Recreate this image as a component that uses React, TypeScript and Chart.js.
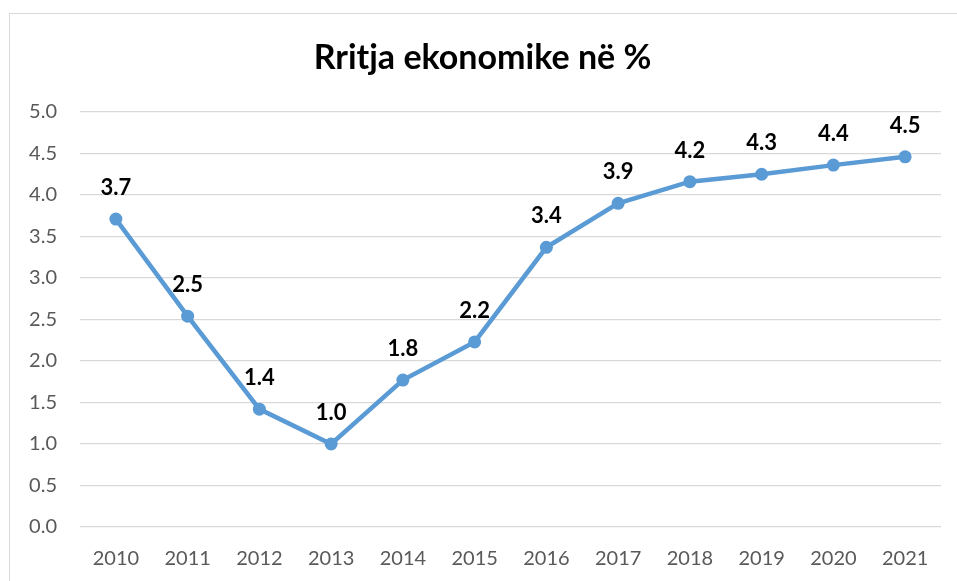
import React, { useEffect, useRef } from "react";
import { Chart, registerables } from "chart.js";

Chart.register(...registerables);

const titleText = "Rritja ekonomike në %";
const years = ["2010", "2011", "2012", "2013", "2014", "2015", "2016", "2017", "2018", "2019", "2020", "2021"];
const growth = [3.71, 2.54, 1.42, 1.0, 1.77, 2.23, 3.37, 3.9, 4.16, 4.25, 4.36, 4.46];
const yMin = 0;
const yMax = 5;
const yStep = 0.5;

const FONT = "Lato, 'Open Sans', sans-serif";

const pointLabelPlugin = {
  id: "pointLabels",
  afterDatasetsDraw(chart: any) {
    const ctx = chart.ctx;
    const meta = chart.getDatasetMeta(0);
    ctx.save();
    ctx.font = `bold 22px ${FONT}`;
    ctx.fillStyle = "#000000";
    ctx.textAlign = "center";
    ctx.textBaseline = "middle";
    meta.data.forEach((pt: any, i: number) => {
      ctx.fillText(growth[i].toFixed(1), pt.x, pt.y - 31);
    });
    ctx.restore();
  },
};

export default function App() {
  const canvasRef = useRef<HTMLCanvasElement | null>(null);

  useEffect(() => {
    if (!canvasRef.current) return;
    const chart = new Chart(canvasRef.current, {
      type: "line",
      data: {
        labels: years,
        datasets: [
          {
            data: growth,
            borderColor: "#5B9BD5",
            backgroundColor: "#5B9BD5",
            borderWidth: 4.5,
            pointRadius: 6.5,
            pointBorderWidth: 0,
            pointBackgroundColor: "#5B9BD5",
            tension: 0,
            fill: false,
          },
        ],
      },
      options: {
        animation: false,
        responsive: false,
        maintainAspectRatio: false,
        layout: { padding: { left: 24, right: 16, top: 20, bottom: 0 } },
        plugins: {
          legend: { display: false },
          tooltip: { enabled: false },
          title: {
            display: true,
            text: titleText,
            color: "#000000",
            font: { family: FONT, size: 34, weight: "bold" },
            padding: { top: 17.6, bottom: 33.6 },
          },
        },
        scales: {
          x: {
            offset: true,
            grid: { display: false, drawTicks: false },
            border: { display: false },
            ticks: {
              color: "#595959",
              font: { family: FONT, size: 20 },
              padding: 20,
              maxRotation: 0,
            },
            afterFit(scale: any) {
              scale.height = 54;
            },
          },
          y: {
            min: yMin,
            max: yMax,
            grid: { color: "#d9d9d9", lineWidth: 1.3, drawTicks: false },
            border: { display: false },
            ticks: {
              stepSize: yStep,
              color: "#595959",
              font: { family: FONT, size: 20 },
              padding: 23,
              callback: (v: any) => Number(v).toFixed(1),
            },
            afterFit(scale: any) {
              scale.width = 56;
            },
          },
        },
      },
      plugins: [pointLabelPlugin],
    });
    return () => chart.destroy();
  }, []);

  return (
    <div style={{ position: "absolute", left: 0, top: 0, width: 957, height: 581, overflow: "hidden", background: "#ffffff" }}>
      <div
        style={{
          position: "absolute",
          left: 9,
          top: 13,
          width: 1000,
          height: 1000,
          borderLeft: "1px solid #d9d9d9",
          borderTop: "1px solid #d9d9d9",
        }}
      />
      <canvas ref={canvasRef} width={957} height={581} style={{ position: "absolute", left: 0, top: 0, width: 957, height: 581 }} />
    </div>
  );
}
